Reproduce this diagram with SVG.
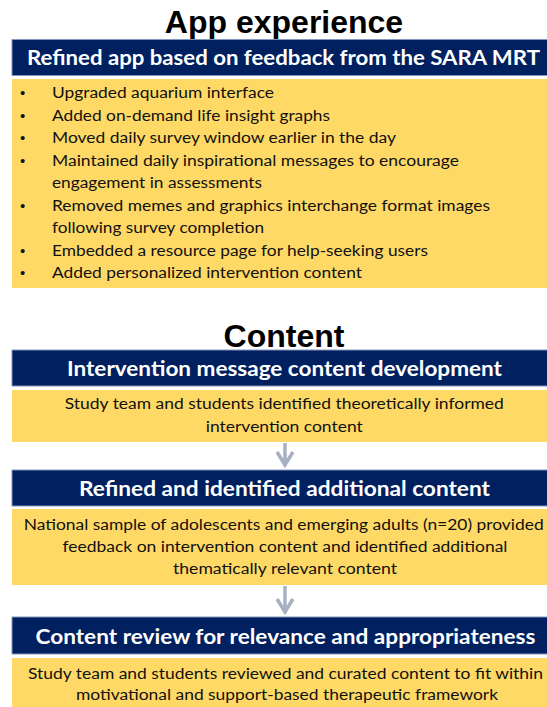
<svg xmlns="http://www.w3.org/2000/svg" width="547" height="707" viewBox="0 0 547 707">
<style>
.title{font-family:"Liberation Sans",Arial,sans-serif;font-weight:bold;font-size:32px;fill:#000;text-anchor:middle}
.hdr{fill:#002060;stroke:#8496bd;stroke-width:1}
.box{fill:#FFD966}
.ht{font-family:Lato,"Open Sans",sans-serif;font-weight:bold;font-size:21px;fill:#fff;text-anchor:middle}
.bt{font-family:Lato,"Open Sans",sans-serif;font-size:15.5px;fill:#111;text-anchor:middle}
.li{font-family:Lato,"Open Sans",sans-serif;font-size:15.5px;fill:#111}
.bu{font-family:"Liberation Sans",Arial,sans-serif;font-size:15px;fill:#111}
.arr{stroke:#A7B1C2;stroke-width:3.5;fill:none}
</style>
<defs>
<marker id="chev" markerUnits="userSpaceOnUse" viewBox="-18 -11 22 22" markerWidth="22" markerHeight="22" refX="0" refY="0" orient="auto">
<path d="M-14,-8 L-1,0 L-14,8" fill="none" stroke="#A7B1C2" stroke-width="3.5" stroke-linejoin="miter"/>
</marker>
</defs>
<rect width="547" height="707" fill="#fff"/>

<g id="title-app">
<text class="title" x="284" y="33">App experience</text>
</g>
<g id="node-app-header">
<rect class="hdr" x="12" y="39.5" width="540" height="36"/>
<text class="ht" x="283.5" y="65" textLength="513" lengthAdjust="spacingAndGlyphs">Refined app based on feedback from the SARA MRT</text>
</g>
<g id="node-app-list">
<rect class="box" x="12" y="79" width="540" height="209"/>
<text class="bu" x="20" y="98">•</text><text class="li" x="52" y="98" textLength="222" lengthAdjust="spacingAndGlyphs">Upgraded aquarium interface</text>
<text class="bu" x="20" y="120.5">•</text><text class="li" x="52" y="120.5" textLength="278" lengthAdjust="spacingAndGlyphs">Added on-demand life insight graphs</text>
<text class="bu" x="20" y="143">•</text><text class="li" x="52" y="143" textLength="344" lengthAdjust="spacingAndGlyphs">Moved daily survey window earlier in the day</text>
<text class="bu" x="20" y="165.5">•</text><text class="li" x="52" y="165.5" textLength="407" lengthAdjust="spacingAndGlyphs">Maintained daily inspirational messages to encourage</text>
<text class="li" x="52" y="188" textLength="210" lengthAdjust="spacingAndGlyphs">engagement in assessments</text>
<text class="bu" x="20" y="210.5">•</text><text class="li" x="52" y="210.5" textLength="438" lengthAdjust="spacingAndGlyphs">Removed memes and graphics interchange format images</text>
<text class="li" x="52" y="233" textLength="212" lengthAdjust="spacingAndGlyphs">following survey completion</text>
<text class="bu" x="20" y="255.5">•</text><text class="li" x="52" y="255.5" textLength="376" lengthAdjust="spacingAndGlyphs">Embedded a resource page for help-seeking users</text>
<text class="bu" x="20" y="278">•</text><text class="li" x="52" y="278" textLength="310" lengthAdjust="spacingAndGlyphs">Added personalized intervention content</text>
</g>

<g id="title-content">
<text class="title" x="284" y="347">Content</text>
</g>
<g id="node-dev-header">
<rect class="hdr" x="12" y="350" width="540" height="36"/>
<text class="ht" x="284.5" y="375.5" textLength="435" lengthAdjust="spacingAndGlyphs">Intervention message content development</text>
</g>
<g id="node-dev-body">
<rect class="box" x="12" y="390" width="540" height="52"/>
<text class="bt" x="284.3" y="409" textLength="439" lengthAdjust="spacingAndGlyphs">Study team and students identified theoretically informed</text>
<text class="bt" x="284.3" y="432" textLength="157" lengthAdjust="spacingAndGlyphs">intervention content</text>
</g>
<g id="node-refine-header">
<rect class="hdr" x="12" y="470" width="540" height="36"/>
<text class="ht" x="284.5" y="495.5" textLength="411" lengthAdjust="spacingAndGlyphs">Refined and identified additional content</text>
</g>
<g id="node-refine-body">
<rect class="box" x="12" y="509" width="540" height="76"/>
<text class="bt" x="283.7" y="530" textLength="520" lengthAdjust="spacingAndGlyphs">National sample of adolescents and emerging adults (n=20) provided</text>
<text class="bt" x="285" y="552" textLength="445" lengthAdjust="spacingAndGlyphs">feedback on intervention content and identified additional</text>
<text class="bt" x="285" y="574" textLength="224" lengthAdjust="spacingAndGlyphs">thematically relevant content</text>
</g>
<g id="node-review-header">
<rect class="hdr" x="12" y="617" width="540" height="37"/>
<text class="ht" x="285.5" y="643.5" textLength="500" lengthAdjust="spacingAndGlyphs">Content review for relevance and appropriateness</text>
</g>
<g id="node-review-body">
<rect class="box" x="12" y="658" width="540" height="52"/>
<text class="bt" x="285.5" y="679" textLength="515" lengthAdjust="spacingAndGlyphs">Study team and students reviewed and curated content to fit within</text>
<text class="bt" x="287" y="700" textLength="422" lengthAdjust="spacingAndGlyphs">motivational and support-based therapeutic framework</text>
</g>

<g id="connectors">
<line class="arr" x1="285" y1="443" x2="285" y2="466" marker-end="url(#chev)"/>
<line class="arr" x1="285" y1="586" x2="285" y2="613" marker-end="url(#chev)"/>
</g>
</svg>
